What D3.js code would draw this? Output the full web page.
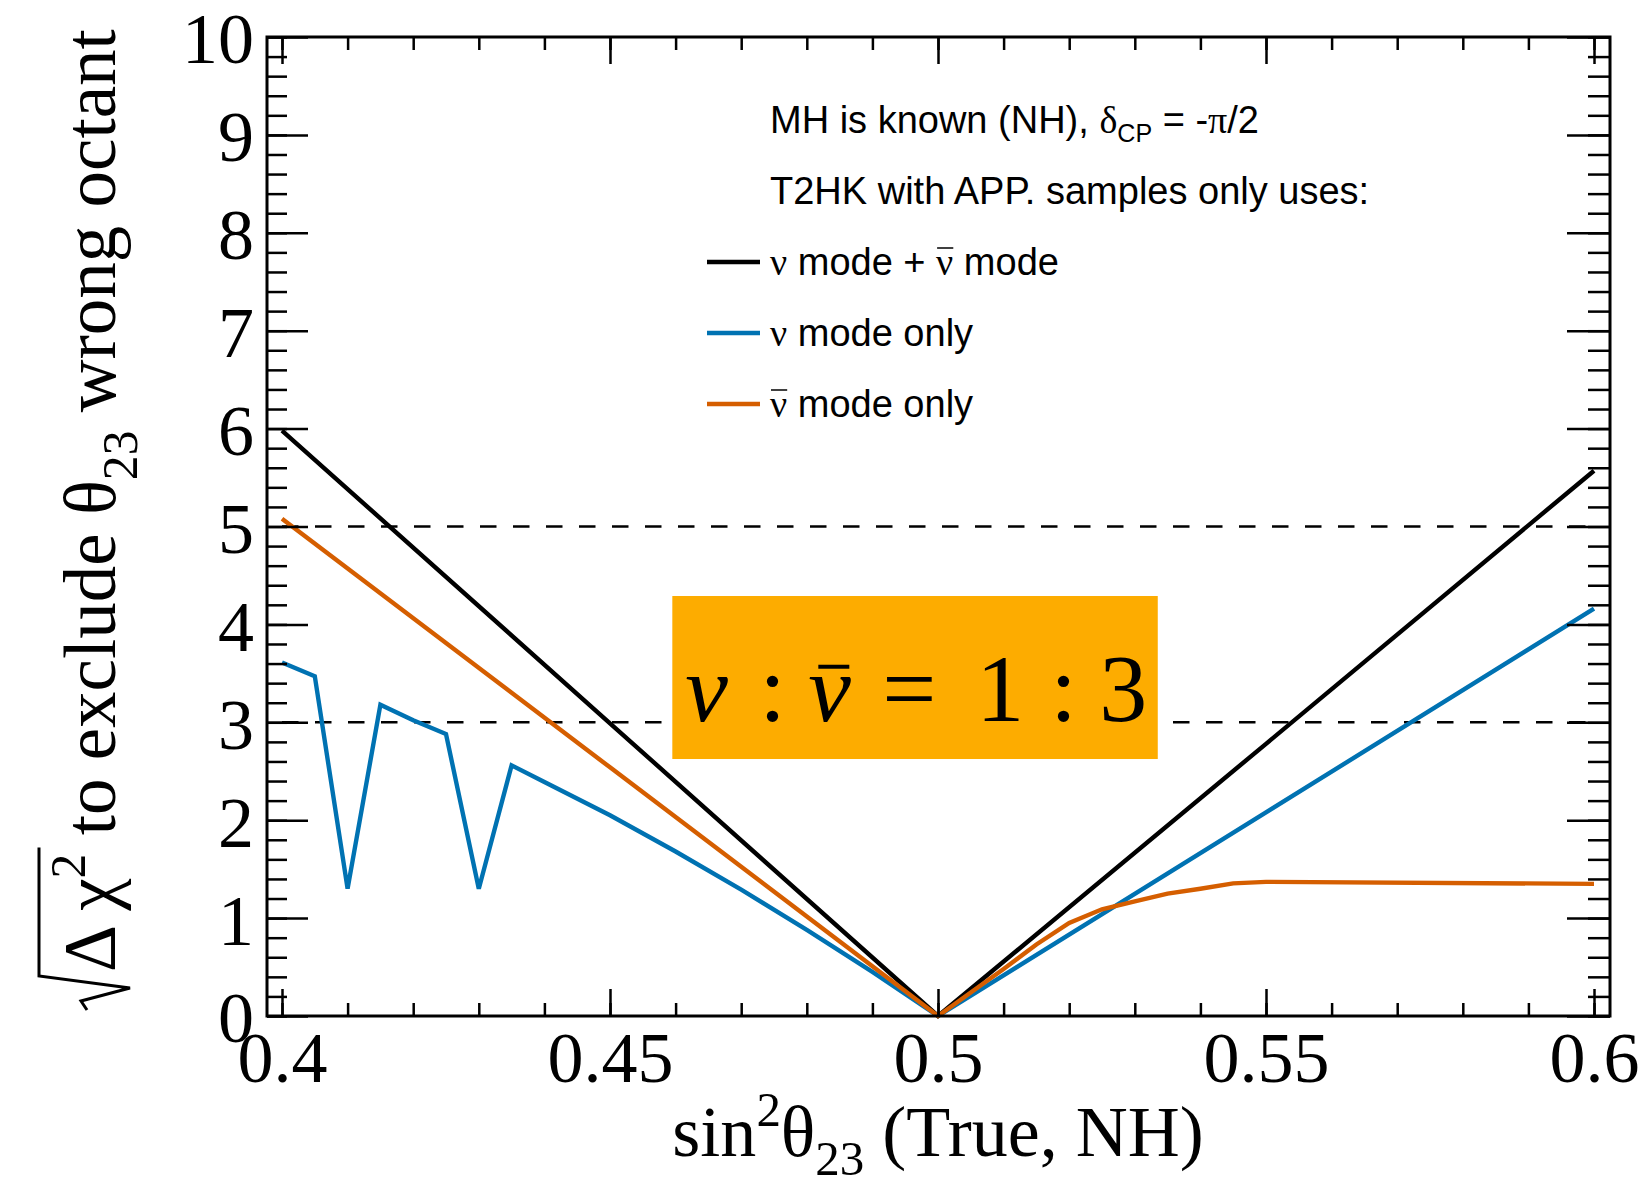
<!DOCTYPE html>
<html>
<head>
<meta charset="utf-8">
<script src="https://cdn.jsdelivr.net/npm/d3@7"></script>
<style>
  body { margin: 0; background: #fff; }
  svg { display: block; }
</style>
</head>
<body>
<script>
// sqrt(dchi2) to exclude the wrong octant vs true sin^2(theta23)
const bothX = [0.40, 0.45, 0.50, 0.55, 0.60];
const bothY = [5.98, 2.99, 0.00, 2.78, 5.57];

const nuX = [0.400, 0.405, 0.410, 0.415, 0.420, 0.425, 0.430, 0.435, 0.440, 0.450, 0.460, 0.470, 0.480, 0.490, 0.500, 0.550, 0.600];
const nuY = [3.61, 3.47, 1.30, 3.18, 3.02, 2.88, 1.30, 2.56, 2.39, 2.05, 1.68, 1.29, 0.88, 0.45, 0.00, 2.08, 4.16];

const nubarX = [0.400, 0.450, 0.500, 0.505, 0.510, 0.515, 0.520, 0.525, 0.530, 0.535, 0.540, 0.545, 0.550, 0.600];
const nubarY = [5.08, 2.54, 0.00, 0.24, 0.48, 0.73, 0.95, 1.09, 1.17, 1.25, 1.30, 1.355, 1.37, 1.35];

const sigmaLevels = [3, 5];

const xTickVals = [0.4, 0.45, 0.5, 0.55, 0.6];
const xTickLabels = ["0.4", "0.45", "0.5", "0.55", "0.6"];
const yTickVals = [0, 1, 2, 3, 4, 5, 6, 7, 8, 9, 10];
const yTickLabels = ["0", "1", "2", "3", "4", "5", "6", "7", "8", "9", "10"];

const seriesColors = ["#000000", "#0072b2", "#d55e00"];

const width = 1641, height = 1181;
const frame = {left: 267, right: 1610, top: 37, bottom: 1016};
const serif = "'Liberation Serif', 'Times New Roman', serif";
const sans = "'Liberation Sans', Arial, Helvetica, sans-serif";

const svg = d3.select("body").append("svg")
  .attr("width", width)
  .attr("height", height);

const x = d3.scaleLinear().domain([0.4, 0.6]).range([282, 1594]);
const y = d3.scaleLinear().domain([0, 10]).range([frame.bottom, frame.top]);

// dashed 3 and 5 sigma lines
svg.append("g").selectAll("line")
  .data(sigmaLevels)
  .join("line")
  .attr("x1", x(0.4))
  .attr("x2", x(0.6))
  .attr("y1", d => y(d))
  .attr("y2", d => y(d))
  .attr("stroke", "#000")
  .attr("stroke-width", 2.5)
  .attr("stroke-dasharray", "16.5,16.5");

// ratio box
const box = {x0: 0.4595, x1: 0.5335, y0: 2.625, y1: 4.29};
svg.append("rect")
  .attr("x", x(box.x0))
  .attr("y", y(box.y1))
  .attr("width", x(box.x1) - x(box.x0))
  .attr("height", y(box.y0) - y(box.y1))
  .attr("fill", "#fdac00");

const ratioY = y(3.016);
const ratioParts = [
  {t: "\u03bd", dx: 13, italic: true},
  {t: ":", dx: 87},
  {t: "\u03bd", dx: 136, italic: true, bar: true},
  {t: "=", dx: 210},
  {t: "1", dx: 304},
  {t: ":", dx: 378},
  {t: "3", dx: 427}
];
ratioParts.forEach(p => {
  const t = svg.append("text")
    .attr("x", x(box.x0) + p.dx)
    .attr("y", ratioY)
    .attr("font-family", serif)
    .attr("font-size", 96)
    .attr("font-style", p.italic ? "italic" : "normal")
    .text(p.t);
  if (p.bar) {
    const bb = t.node().getBBox();
    svg.append("line")
      .attr("x1", bb.x + 10).attr("x2", bb.x + bb.width - 2)
      .attr("y1", ratioY - 54).attr("y2", ratioY - 54)
      .attr("stroke", "#000").attr("stroke-width", 4);
  }
});

// curves
const line = d3.line()
  .x(d => x(d[0]))
  .y(d => y(d[1]));

const series = [
  d3.zip(bothX, bothY),
  d3.zip(nuX, nuY),
  d3.zip(nubarX, nubarY)
];

svg.append("g").selectAll("path")
  .data(series)
  .join("path")
  .attr("d", line)
  .attr("fill", "none")
  .attr("stroke", (d, i) => seriesColors[i])
  .attr("stroke-width", 4.4)
  .attr("stroke-linejoin", "miter");

// axes
const xMinor = d3.range(40, 61).map(d => d / 100);
const yMinor = d3.range(0, 51).map(d => d / 5);

function styleTicks(g) {
  g.select(".domain").remove();
  g.selectAll(".tick line").attr("stroke", "#000").attr("stroke-width", 2.5);
}

svg.append("g")
  .attr("transform", `translate(0,${frame.bottom})`)
  .call(d3.axisBottom(x).tickValues(xMinor).tickSize(-13).tickFormat(""))
  .call(styleTicks);
svg.append("g")
  .attr("transform", `translate(0,${frame.top})`)
  .call(d3.axisTop(x).tickValues(xMinor).tickSize(-13).tickFormat(""))
  .call(styleTicks);
svg.append("g")
  .attr("transform", `translate(0,${frame.top})`)
  .call(d3.axisTop(x).tickValues(xTickVals).tickSize(-27).tickFormat(""))
  .call(styleTicks);

const xAxis = svg.append("g")
  .attr("transform", `translate(0,${frame.bottom})`)
  .call(d3.axisBottom(x).tickValues(xTickVals).tickSize(-27).tickPadding(15)
    .tickFormat((d, i) => xTickLabels[i]))
  .call(styleTicks);
xAxis.attr("font-family", serif).attr("font-size", 72);
xAxis.selectAll("text").attr("fill", "#000");

svg.append("g")
  .attr("transform", `translate(${frame.left},0)`)
  .call(d3.axisLeft(y).tickValues(yMinor).tickSize(-20).tickFormat(""))
  .call(styleTicks);
svg.append("g")
  .attr("transform", `translate(${frame.right},0)`)
  .call(d3.axisRight(y).tickValues(yMinor).tickSize(-22).tickFormat(""))
  .call(styleTicks);
svg.append("g")
  .attr("transform", `translate(${frame.right},0)`)
  .call(d3.axisRight(y).tickValues(yTickVals).tickSize(-43).tickFormat(""))
  .call(styleTicks);

const yAxis = svg.append("g")
  .attr("transform", `translate(${frame.left},0)`)
  .call(d3.axisLeft(y).tickValues(yTickVals).tickSize(-41).tickPadding(13)
    .tickFormat((d, i) => yTickLabels[i]))
  .call(styleTicks);
yAxis.attr("font-family", serif).attr("font-size", 72);
yAxis.selectAll("text").attr("fill", "#000").attr("dy", "0.36em");

// frame
svg.append("rect")
  .attr("x", frame.left)
  .attr("y", frame.top)
  .attr("width", frame.right - frame.left)
  .attr("height", frame.bottom - frame.top)
  .attr("fill", "none")
  .attr("stroke", "#000")
  .attr("stroke-width", 3);

// helper for text with sub/superscripts
function addParts(textSel, parts, size) {
  let shift = 0;
  parts.forEach(p => {
    const ts = textSel.append("tspan").text(p.t);
    let target = 0;
    if (p.sup) target = -p.sup;
    if (p.sub) target = p.sub;
    ts.attr("dy", target - shift);
    shift = target;
    if (p.sup || p.sub) ts.attr("font-size", size * (p.scale || 0.68));
    if (p.greek) ts.attr("font-family", serif);
  });
}

// x title
const xTitle = svg.append("text")
  .attr("x", x(0.5))
  .attr("y", 1156)
  .attr("text-anchor", "middle")
  .attr("font-family", serif)
  .attr("font-size", 72);
addParts(xTitle, [
  {t: "sin"}, {t: "2", sup: 30}, {t: "\u03b8"}, {t: "23", sub: 19}, {t: " (True, NH)"}
], 72);

// y title, rotated, with a drawn radical over "Delta chi^2"
const yTitleG = svg.append("g")
  .attr("transform", "translate(115,1010) rotate(-90)");
const yTitle = yTitleG.append("text")
  .attr("x", 38)
  .attr("y", 0)
  .attr("font-family", serif)
  .attr("font-size", 73);
addParts(yTitle, [
  {t: "\u0394 \u03c7"}, {t: "2", sup: 30}, {t: " to exclude \u03b8"}, {t: "23", sub: 22}, {t: " wrong octant"}
], 73);
const radEnd = yTitle.node().getEndPositionOfChar(3).x;
yTitleG.append("path")
  .attr("d", `M0,-28L9,-34L22,15L34,-76H${radEnd + 6}`)
  .attr("fill", "none")
  .attr("stroke", "#000")
  .attr("stroke-width", 3);

// legend
const legend = {x: 770, y: 133, step: 71};
const legendHeader = [
  [{t: "MH is known (NH), "}, {t: "\u03b4", greek: true}, {t: "CP", sub: 9, scale: 0.66}, {t: " = -"}, {t: "\u03c0", greek: true}, {t: "/2"}],
  [{t: "T2HK with APP. samples only uses:"}]
];
const legendRows = [
  [{t: "\u03bd", greek: true}, {t: " mode + "}, {t: "\u03bd", greek: true, bar: true}, {t: " mode"}],
  [{t: "\u03bd", greek: true}, {t: " mode only"}],
  [{t: "\u03bd", greek: true, bar: true}, {t: " mode only"}]
];

function legendText(parts, row) {
  const ty = legend.y + row * legend.step;
  const t = svg.append("text")
    .attr("x", legend.x)
    .attr("y", ty)
    .attr("font-family", sans)
    .attr("font-size", 38)
    .attr("fill", "#000");
  addParts(t, parts, 38);
  let idx = 0;
  parts.forEach(p => {
    if (p.bar) {
      const a = t.node().getStartPositionOfChar(idx).x;
      const b = t.node().getEndPositionOfChar(idx).x;
      svg.append("line")
        .attr("x1", a + 1).attr("x2", b)
        .attr("y1", ty - 27).attr("y2", ty - 27)
        .attr("stroke", "#000").attr("stroke-width", 1.5);
    }
    idx += p.t.length;
  });
}

legendHeader.forEach((parts, i) => legendText(parts, i));
legendRows.forEach((parts, i) => {
  const row = i + 2;
  legendText(parts, row);
  svg.append("line")
    .attr("x1", 707).attr("x2", 760)
    .attr("y1", legend.y + row * legend.step - 13)
    .attr("y2", legend.y + row * legend.step - 13)
    .attr("stroke", seriesColors[i])
    .attr("stroke-width", 4.4);
});
</script>
</body>
</html>
